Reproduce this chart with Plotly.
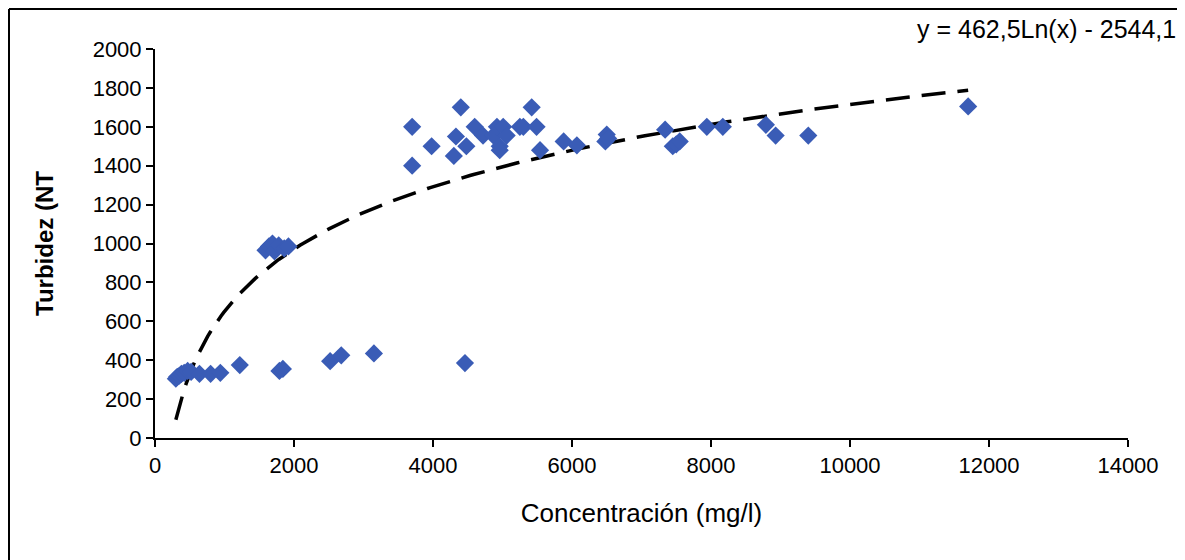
import numpy as np
import plotly.graph_objects as go

# Concentración (mg/l)
conc = [300, 320, 350, 380, 420, 470, 520, 640, 800, 940, 1220, 1790, 1840,
        2520, 2680, 3150, 4460,
        1590, 1640, 1690, 1720, 1780, 1860, 1920,
        3700, 3700, 3980, 4300, 4330, 4400, 4480, 4600, 4720, 4870, 4920, 4960,
        4960, 5010, 5060, 5250, 5300, 5420, 5490, 5540, 5880, 6070, 6480, 6500,
        6520, 7340, 7450, 7500, 7550, 7940, 8170, 8790, 8930, 9400, 11700]
# Turbidez (NTU)
turb = [305, 315, 320, 330, 335, 345, 340, 330, 330, 335, 375, 345, 355,
        395, 425, 435, 385,
        965, 985, 1000, 960, 990, 975, 985,
        1600, 1400, 1500, 1450, 1550, 1700, 1500, 1600, 1555, 1555, 1600, 1500,
        1480, 1600, 1555, 1600, 1600, 1700, 1600, 1480, 1525, 1505, 1525, 1560,
        1540, 1585, 1500, 1510, 1525, 1600, 1600, 1610, 1555, 1555, 1705]

# logarithmic trendline coefficients shown on the chart
coef_a = 462.5
coef_b = -2544.1

x_tick_vals = [0, 2000, 4000, 6000, 8000, 10000, 12000, 14000]
x_tick_text = ["0", "2000", "4000", "6000", "8000", "10000", "12000", "14000"]
y_tick_vals = [0, 200, 400, 600, 800, 1000, 1200, 1400, 1600, 1800, 2000]
y_tick_text = [str(v) for v in y_tick_vals]

trend_x = np.linspace(min(conc), max(conc), 300)
trend_y = coef_a * np.log(trend_x) + coef_b

FONT = "Liberation Sans, Arial, sans-serif"

# page body has an 8px margin; figure coordinates are offset accordingly
L, R, T, B = 147, 65, 41, 130
W, H = 1185, 560
pw, ph = W - L - R, H - T - B


def px(xf):
    return (xf - L) / pw


def py(yf):
    return (H - B - yf) / ph


frame = dict(color="black", width=2)
fig = go.Figure()
fig.add_trace(go.Scatter(
    x=trend_x, y=trend_y, mode="lines",
    line=dict(color="black", width=3.5, dash="24px,12px"),
    hoverinfo="skip", showlegend=False))
fig.add_trace(go.Scatter(
    x=conc, y=turb, mode="markers",
    marker=dict(symbol="diamond", size=14, color="#3a5cb6"),
    showlegend=False))

fig.update_layout(
    width=W, height=H,
    margin=dict(l=L, r=R, t=T, b=B),
    paper_bgcolor="white", plot_bgcolor="white",
    font=dict(family=FONT, color="black", size=22),
    xaxis=dict(range=[0, 14000], tickvals=x_tick_vals, ticktext=x_tick_text,
               showgrid=False, zeroline=False, showline=True, linecolor="black",
               linewidth=2, ticks="outside", ticklen=7, tickwidth=2, tickcolor="black",
               tickfont=dict(size=22, family=FONT),
               title=dict(text="Concentración (mg/l)", font=dict(size=26, family=FONT),
                          standoff=26)),
    yaxis=dict(range=[0, 2000], tickvals=y_tick_vals, ticktext=y_tick_text,
               showgrid=False, zeroline=False, showline=True, linecolor="black",
               linewidth=2, ticks="outside", ticklen=7, tickwidth=2, tickcolor="black",
               tickfont=dict(size=22, family=FONT),
               title=dict(text="<b>Turbidez (NT</b>", font=dict(size=24, family=FONT),
                          standoff=32)),
    shapes=[
        dict(type="line", xref="paper", yref="paper", x0=px(1), x1=px(1), y0=py(1), y1=py(H), line=frame),
        dict(type="line", xref="paper", yref="paper", x0=px(1), x1=px(1171), y0=py(1), y1=py(1), line=frame),
        dict(type="line", xref="paper", yref="paper", x0=px(1171), x1=px(1171), y0=py(1), y1=py(H), line=frame),
    ],
    annotations=[dict(text="y = 462,5Ln(x) - 2544,1", xref="paper", yref="paper",
                      x=px(1170), y=py(21), xanchor="right", yanchor="middle",
                      showarrow=False, font=dict(size=25, family=FONT))],
)

fig.write_html("out.html")
